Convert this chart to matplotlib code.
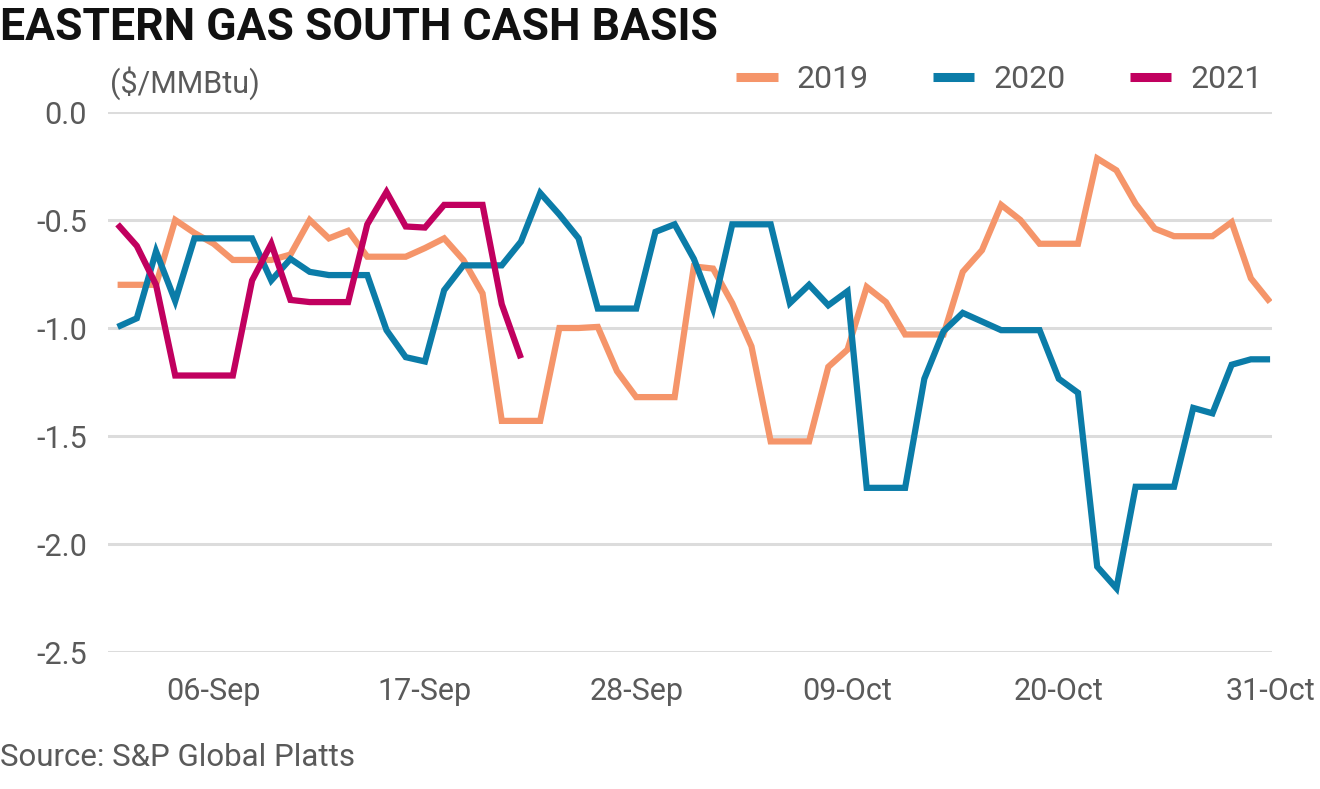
import numpy as np
import matplotlib
matplotlib.use("Agg")
import matplotlib.pyplot as plt

# Day index 0 = 01-Sep ... 60 = 31-Oct
tick_days = [5, 16, 27, 38, 49, 60]
tick_labels = ["06-Sep", "17-Sep", "28-Sep", "09-Oct", "20-Oct", "31-Oct"]

s2019 = [-0.80, -0.80, -0.80, -0.50, -0.56, -0.61, -0.685, -0.685, -0.685, -0.66,
         -0.50, -0.585, -0.55, -0.67, -0.67, -0.67, -0.63, -0.585, -0.685, -0.84,
         -1.43, -1.43, -1.43, -1.00, -1.00, -0.995, -1.20, -1.32, -1.32, -1.32,
         -0.715, -0.725, -0.885, -1.085, -1.525, -1.525, -1.525, -1.18, -1.10, -0.81,
         -0.88, -1.03, -1.03, -1.03, -0.74, -0.64, -0.43, -0.50, -0.61, -0.61,
         -0.61, -0.215, -0.27, -0.425, -0.54, -0.575, -0.575, -0.575, -0.51, -0.77,
         -0.88]
s2020 = [-0.995, -0.955, -0.645, -0.875, -0.585, -0.585, -0.585, -0.585, -0.78, -0.68,
         -0.74, -0.755, -0.755, -0.755, -1.01, -1.135, -1.155, -0.825, -0.71, -0.71,
         -0.71, -0.60, -0.375, -0.475, -0.585, -0.91, -0.91, -0.91, -0.555, -0.52,
         -0.68, -0.91, -0.52, -0.52, -0.52, -0.885, -0.80, -0.895, -0.83, -1.74,
         -1.74, -1.74, -1.235, -1.015, -0.93, -0.97, -1.01, -1.01, -1.01, -1.235,
         -1.30, -2.105, -2.205, -1.735, -1.735, -1.735, -1.37, -1.395, -1.17, -1.145,
         -1.145]
s2021 = [-0.52, -0.62, -0.80, -1.22, -1.22, -1.22, -1.22, -0.78, -0.61, -0.87,
         -0.88, -0.88, -0.88, -0.52, -0.37, -0.53, -0.535, -0.43, -0.43, -0.43,
         -0.89, -1.14]

series_names = ["2019", "2020", "2021"]
colors = ["#F5956A", "#0B7CA8", "#C1005F"]
y_ticks = [0.0, -0.5, -1.0, -1.5, -2.0, -2.5]

FONT = ["Roboto", "DejaVu Sans"]
plt.rcParams["font.family"] = FONT
text_gray = "#5a5a5a"

fig = plt.figure(figsize=(13.2, 7.89), dpi=100)
ax = fig.add_axes([108/1320, 1 - 652/789, (1272-108)/1320, 540/789])

for name, vals, c in zip(series_names, [s2019, s2020, s2021], colors):
    ax.plot(np.arange(len(vals)), vals, color=c, lw=4.5, label=name,
            solid_joinstyle="miter", solid_capstyle="butt", zorder=3)

ax.set_xlim(-0.5, 60.1)
ax.set_ylim(-2.5, 0.0)
ax.set_yticks(y_ticks)
ax.set_yticklabels([f"{v:.1f}" for v in y_ticks])
ax.set_xticks(tick_days)
ax.set_xticklabels(tick_labels)
ax.grid(axis="y", color="#dcdcdc", lw=2.2, zorder=0)
ax.grid(axis="x", visible=False)
for sp in ax.spines.values():
    sp.set_visible(False)
ax.tick_params(axis="both", length=0, labelsize=22, labelcolor=text_gray)
ax.tick_params(axis="y", pad=15)
ax.tick_params(axis="x", pad=18)
ax.set_axisbelow(True)

leg = ax.legend(ncol=3, frameon=False, loc="center right",
                bbox_to_anchor=(1.003, 1 + 32/540), fontsize=23, handlelength=1.3,
                columnspacing=2.0, handletextpad=0.6, borderaxespad=0.0)
for t in leg.get_texts():
    t.set_color(text_gray)
for h in leg.get_lines():
    h.set_linewidth(6.5)

fig.text(0.0, 1 - 7/789, "EASTERN GAS SOUTH CASH BASIS", ha="left", va="top",
         fontsize=32, fontweight="bold", color="#111111")
fig.text(110/1320, 1 - 83/789, "($/MMBtu)", ha="left", va="center",
         fontsize=22, color=text_gray)
fig.text(0.0, 1 - 757/789, "Source: S&P Global Platts", ha="left", va="center",
         fontsize=22.5, color=text_gray)

fig.savefig("out.png", dpi=100)
